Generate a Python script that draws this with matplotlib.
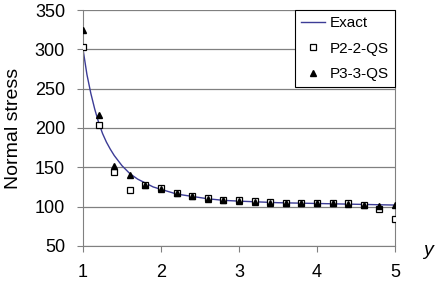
import matplotlib.pyplot as plt

plt.rcParams['font.family'] = ['Liberation Sans', 'DejaVu Sans']

# Exact solution curve
y_exact = [1.0, 1.05, 1.1, 1.15, 1.2, 1.25, 1.3, 1.35, 1.4, 1.5, 1.6, 1.7, 1.8, 1.9,
           2.0, 2.2, 2.4, 2.6, 2.8, 3.0, 3.5, 4.0, 4.5, 5.0]
s_exact = [300, 268, 244, 224, 207, 193, 182, 173, 165, 152, 142, 135, 130, 125,
           122, 116, 113, 110, 108, 107, 105, 104, 103, 102]

# Sample points
y_pts = [1.0, 1.2, 1.4, 1.6, 1.8, 2.0, 2.2, 2.4, 2.6, 2.8, 3.0,
         3.2, 3.4, 3.6, 3.8, 4.0, 4.2, 4.4, 4.6, 4.8, 5.0]
s_p2 = [303, 204, 144, 121, 128, 124, 117, 114, 111, 109, 108,
        107, 106, 105, 105, 105, 105, 105, 102, 97, 84]
s_p3 = [325, 217, 152, 140, 128, 122, 117, 113, 110, 108, 107,
        106, 105, 104, 104, 104, 104, 103, 102, 101, 102]

fig = plt.figure(figsize=(4.37, 2.86), dpi=100)
ax = fig.add_axes([0.19, 0.14, 0.714, 0.825])

ax.plot(y_exact, s_exact, color='#3c3c96', lw=1.0, label='Exact', zorder=2)
ax.plot(y_pts, s_p2, ls='none', marker='s', ms=4, mfc='white', mec='black',
        mew=0.9, label='P2-2-QS', zorder=3)
ax.plot(y_pts, s_p3, ls='none', marker='^', ms=4.5, color='black',
        label='P3-3-QS', zorder=4)

ax.set_xlim(1, 5)
ax.set_ylim(50, 350)
ax.set_xticks([1, 2, 3, 4, 5])
ax.set_yticks(range(50, 351, 50))
ax.yaxis.grid(True, color='#808080', lw=0.9)
ax.set_axisbelow(True)
ax.spines['top'].set_visible(False)
for s in ['left', 'bottom', 'right']:
    ax.spines[s].set_color('#808080')
ax.tick_params(axis='both', labelsize=13, color='#808080', length=4)
ax.tick_params(axis='x', pad=9)
ax.tick_params(axis='y', pad=9)

ax.set_ylabel('Normal stress', fontsize=14, labelpad=9)
fig.text(0.98, 0.125, 'y', fontsize=14, style='italic', ha='center', va='center')

leg = ax.legend(loc='upper right', fontsize=11, frameon=True, fancybox=False,
                edgecolor='black', framealpha=1, handlelength=1.6,
                handletextpad=0.3, borderaxespad=0, labelspacing=0.75,
                borderpad=0.4)
leg.get_frame().set_linewidth(0.8)

fig.savefig('out.png', dpi=100, facecolor='white')
